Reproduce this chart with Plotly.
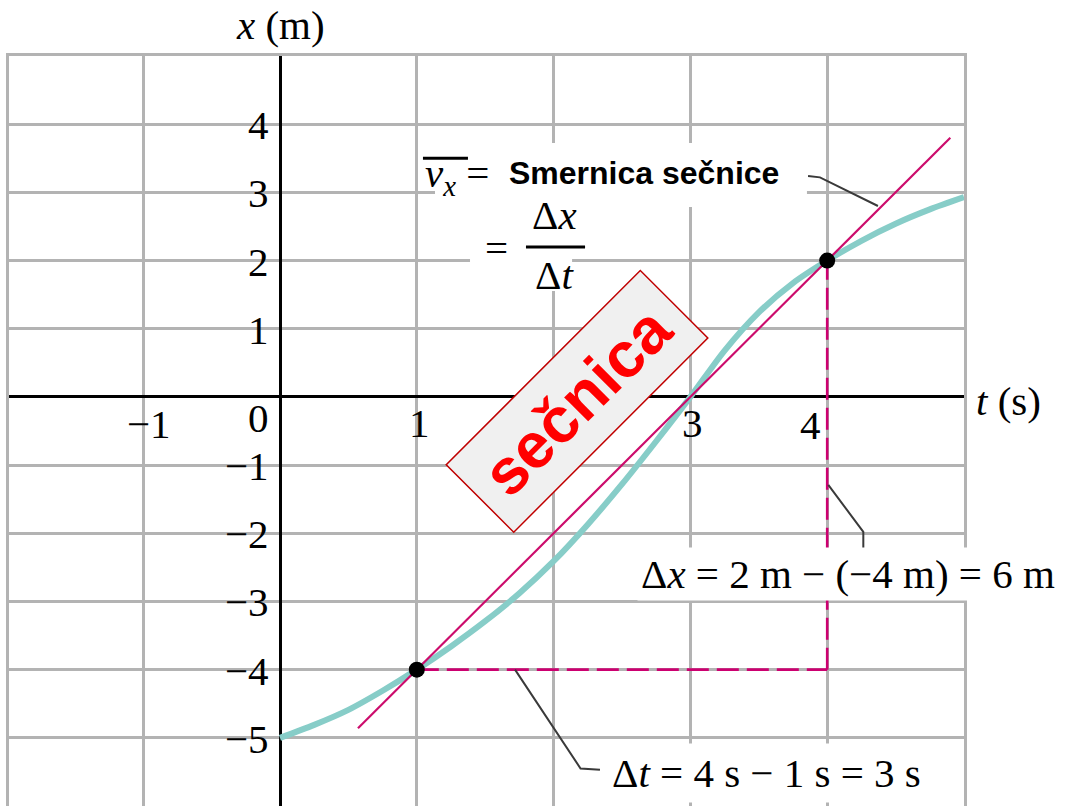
import plotly.graph_objects as go

# ---------------- data ----------------
t_curve = [0, 0.25, 0.5, 0.75, 1, 1.25, 1.5, 1.75, 2, 2.25, 2.5, 2.75, 3,
           3.25, 3.5, 3.75, 4, 4.25, 4.5, 4.75, 5]
x_curve = [-5.0, -4.81, -4.59, -4.31, -4.0, -3.66, -3.29, -2.88, -2.41, -1.87,
           -1.28, -0.65, 0.0, 0.68, 1.24, 1.67, 2.0, 2.29, 2.54, 2.75, 2.93]

t_secant = [0.57, 4.90]
x_secant = [-4.86, 3.80]

t_points = [1, 4]
x_points = [-4, 2]

t_tick_values = [-1, 0, 1, 2, 3, 4]
t_tick_labels = ["\u22121", "0", "1", "2", "3", "4"]
x_tick_values = [4, 3, 2, 1, -1, -2, -3, -4, -5]
x_tick_labels = ["4", "3", "2", "1", "\u22121", "\u22122", "\u22123", "\u22124", "\u22125"]

# leader lines for the labels
lead_sec_t = [3.86, 3.947, 4.371]
lead_sec_x = [3.24, 3.22, 2.80]
lead_dx_t = [4.008, 4.264, 4.264]
lead_dx_x = [-1.29, -1.98, -2.29]
lead_dt_t = [1.718, 2.197, 2.339]
lead_dt_x = [-4.0, -5.45, -5.47]

# ---------------- styles ----------------
SERIF = "Liberation Serif"
SANS = "Liberation Sans"
GRID = "#b3b3b3"
TEAL = "#87cdc8"
PINK = "#cc0c6c"
DASH = "#cc0070"
FS = 41

fig = go.Figure()

fig.add_trace(go.Scatter(x=t_curve, y=x_curve, mode="lines",
                         line=dict(color=TEAL, width=6, shape="spline", smoothing=0.8),
                         hoverinfo="skip"))
fig.add_trace(go.Scatter(x=t_secant, y=x_secant, mode="lines",
                         line=dict(color=PINK, width=2.2), hoverinfo="skip"))
# dashed Δt and Δx segments
fig.add_trace(go.Scatter(x=[t_points[0], t_points[1]], y=[x_points[0], x_points[0]],
                         mode="lines", line=dict(color=DASH, width=2.6, dash="22px,8px"),
                         hoverinfo="skip"))
fig.add_trace(go.Scatter(x=[t_points[1], t_points[1]], y=[x_points[0], x_points[1]],
                         mode="lines", line=dict(color=DASH, width=2.6, dash="22px,8px"),
                         hoverinfo="skip"))
fig.add_trace(go.Scatter(x=t_points, y=x_points, mode="markers",
                         marker=dict(color="black", size=16), hoverinfo="skip"))
for lt, lx in [(lead_sec_t, lead_sec_x), (lead_dx_t, lead_dx_x), (lead_dt_t, lead_dt_x)]:
    fig.add_trace(go.Scatter(x=lt, y=lx, mode="lines",
                             line=dict(color="#3a3a3a", width=2), hoverinfo="skip"))

ann = []
# t-axis tick labels
t_off = {-1: (6, -27), 0: (-22, -21), 1: (3, -26), 2: (0, -26), 3: (2, -26), 4: (-17, -28)}
for v, lab in zip(t_tick_values, t_tick_labels):
    dx, dy = t_off[v]
    ann.append(dict(x=v, y=0, text=lab, showarrow=False, xanchor="center", yanchor="middle",
                    xshift=dx, yshift=dy, font=dict(family=SERIF, size=FS, color="black")))
# x-axis (vertical) tick labels
for v, lab in zip(x_tick_values, x_tick_labels):
    ann.append(dict(x=0, y=v, text=lab, showarrow=False, xanchor="right", yanchor="middle",
                    xshift=-9, yshift=-1, font=dict(family=SERIF, size=FS, color="black")))

# axis titles
ann.append(dict(x=0, y=1.0415, xref="x", yref="paper", text="<i>x</i> (m)", showarrow=False,
                xanchor="center", yanchor="middle", font=dict(family=SERIF, size=FS, color="black")))
ann.append(dict(x=1.047, y=0, xref="paper", yref="y", text="<i>t</i> (s)", showarrow=False,
                xanchor="center", yanchor="middle", yshift=-4,
                font=dict(family=SERIF, size=FS, color="black")))

# average velocity label
ann.append(dict(x=1.294, y=3.24, text="<i>v</i><sub><i>x</i></sub> =", showarrow=False,
                xanchor="center", yanchor="middle", font=dict(family=SERIF, size=FS, color="black")))
ann.append(dict(x=2.661, y=3.277, text="<b>Smernica sečnice</b>", showarrow=False,
                xanchor="center", yanchor="middle", font=dict(family=SANS, size=32, color="black")))
ann.append(dict(x=1.586, y=2.178, text="=", showarrow=False, xanchor="center", yanchor="middle",
                font=dict(family=SERIF, size=FS, color="black")))
ann.append(dict(x=2.010, y=2.668, text="Δ<i>x</i>", showarrow=False, xanchor="center",
                yanchor="middle", font=dict(family=SERIF, size=FS, color="black")))
ann.append(dict(x=2.010, y=1.795, text="Δ<i>t</i>", showarrow=False, xanchor="center",
                yanchor="middle", font=dict(family=SERIF, size=FS, color="black")))

# Δx and Δt labels with white backgrounds
ann.append(dict(x=4.150, y=-2.59, text="Δ<i>x</i> = 2 m − (−4 m) = 6 m", showarrow=False,
                xanchor="center", yanchor="middle", bgcolor="white", borderpad=3,
                font=dict(family=SERIF, size=FS, color="black")))
ann.append(dict(x=3.553, y=-5.51, text="Δ<i>t</i> = 4 s − 1 s = 3 s", showarrow=False,
                xanchor="center", yanchor="middle", bgcolor="white", borderpad=6,
                font=dict(family=SERIF, size=FS, color="black")))

# rotated "sečnica" box
ann.append(dict(x=2.170, y=-0.066, text="<b>sečnica</b>", showarrow=False, textangle=-45,
                xanchor="center", yanchor="middle", bgcolor="#f0f0f0", bordercolor="#c00000",
                borderwidth=1.5, borderpad=0, width=273, height=94,
                font=dict(family=SANS, size=64, color="#ff0000")))

shapes = [
    # white backgrounds behind the formula (above grid, below traces)
    dict(type="rect", xref="x", yref="y", x0=1.133, x1=3.852, y0=2.785, y1=3.724,
         fillcolor="white", line=dict(width=0), layer="between"),
    dict(type="rect", xref="x", yref="y", x0=1.389, x1=2.135, y0=1.553, y1=2.785,
         fillcolor="white", line=dict(width=0), layer="between"),
    # overline on v_x
    dict(type="line", xref="x", yref="y", x0=1.045, x1=1.374, y0=3.50, y1=3.50,
         line=dict(color="black", width=3), layer="above"),
    # fraction bar
    dict(type="line", xref="x", yref="y", x0=1.798, x1=2.230, y0=2.199, y1=2.199,
         line=dict(color="black", width=3), layer="above"),
]

axis_common = dict(dtick=1, tick0=0, showgrid=True, gridcolor=GRID, gridwidth=3,
                   zeroline=True, zerolinecolor="black", zerolinewidth=3,
                   showticklabels=False, ticks="", showline=True, linecolor=GRID,
                   linewidth=3, mirror=True, fixedrange=True)

fig.update_layout(
    width=1065, height=806,
    margin=dict(l=9, r=101, t=56, b=0),
    plot_bgcolor="white", paper_bgcolor="white",
    showlegend=False,
    xaxis=dict(range=[-1.981, 5], **axis_common),
    yaxis=dict(range=[-6, 5], **axis_common),
    annotations=ann,
    shapes=shapes,
)

# remove the default page margin so the figure sits at the window's top-left corner
fig.write_html("out.html",
               config={"displayModeBar": False},
               post_script="document.body.style.margin='0px';document.body.style.overflow='hidden';")
